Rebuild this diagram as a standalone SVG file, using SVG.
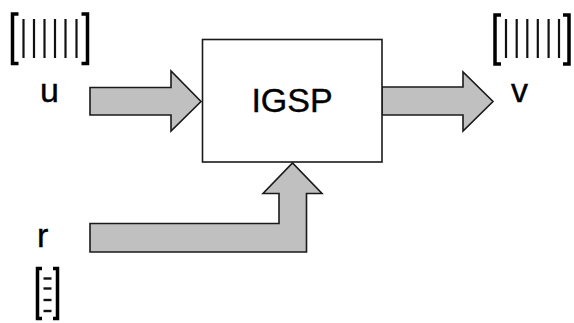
<svg xmlns="http://www.w3.org/2000/svg" width="574" height="323" viewBox="0 0 574 323">
  <style>
    .arrow { fill: #c0c0c0; stroke: #1a1a1a; stroke-width: 1.6; stroke-linejoin: miter; }
    .box { fill: #ffffff; stroke: #1a1a1a; stroke-width: 1.6; }
    .lbl { font-family: "Liberation Sans", Arial, sans-serif; font-size: 34px; fill: #000; stroke: #000; stroke-width: 0.4; }
    .brk { fill: none; stroke: #000; stroke-width: 3.5; }
    .bar { stroke: #111; stroke-width: 2.2; }
    .dash { stroke: #111; stroke-width: 2.4; }
  </style>
  <rect width="574" height="323" fill="#ffffff"/>

  <!-- connectors: block arrows -->
  <g id="connectors">
    <polygon id="arrow-u" class="arrow" points="90,87.5 171,87.5 171,71 201,101.5 171,131 171,115 90,115"/>
    <polygon id="arrow-v" class="arrow" points="382,87 463,87 463,72 493,101.5 463,131 463,115 382,115"/>
    <polygon id="arrow-r" class="arrow" points="90,223.5 279,223.5 279,193.5 263,193.5 292.5,163 322,193.5 306.5,193.5 306.5,252 90,252"/>
  </g>

  <!-- processing block -->
  <g id="igsp">
    <rect class="box" x="202.5" y="39.5" width="179.5" height="122.5"/>
    <text class="lbl" x="292" y="112" text-anchor="middle">IGSP</text>
  </g>

  <!-- input u with its vector -->
  <g id="input-u">
    <text class="lbl" x="40" y="102">u</text>
    <path class="brk" d="M18.5,14 H12.5 V63.5 H18.5"/>
    <path class="brk" d="M81.5,14 H87.5 V63.5 H81.5"/>
    <g class="bar">
      <line x1="23.5" y1="19" x2="23.5" y2="58"/>
      <line x1="34" y1="19" x2="34" y2="58"/>
      <line x1="44.5" y1="19" x2="44.5" y2="58"/>
      <line x1="55" y1="19" x2="55" y2="58"/>
      <line x1="65.5" y1="19" x2="65.5" y2="58"/>
      <line x1="76.5" y1="19" x2="76.5" y2="58"/>
    </g>
  </g>

  <!-- output v with its vector -->
  <g id="output-v">
    <text class="lbl" x="511" y="102">v</text>
    <path class="brk" d="M501,15 H495 V64 H501"/>
    <path class="brk" d="M563,15 H569 V64 H563"/>
    <g class="bar">
      <line x1="506" y1="19" x2="506" y2="58"/>
      <line x1="516.7" y1="19" x2="516.7" y2="58"/>
      <line x1="527.3" y1="19" x2="527.3" y2="58"/>
      <line x1="537.8" y1="19" x2="537.8" y2="58"/>
      <line x1="548.6" y1="19" x2="548.6" y2="58"/>
      <line x1="559" y1="19" x2="559" y2="58"/>
    </g>
  </g>

  <!-- reference input r with its short vector -->
  <g id="input-r">
    <text class="lbl" x="37" y="247">r</text>
    <path class="brk" d="M42,268.5 H37.5 V318.5 H42"/>
    <path class="brk" d="M53,268.5 H57.5 V318.5 H53"/>
    <g class="dash">
      <line x1="43.5" y1="278.5" x2="51.5" y2="278.5"/>
      <line x1="43.5" y1="288.5" x2="51.5" y2="288.5"/>
      <line x1="43.5" y1="300" x2="51.5" y2="300"/>
      <line x1="43.5" y1="311" x2="51.5" y2="311"/>
    </g>
  </g>
</svg>
